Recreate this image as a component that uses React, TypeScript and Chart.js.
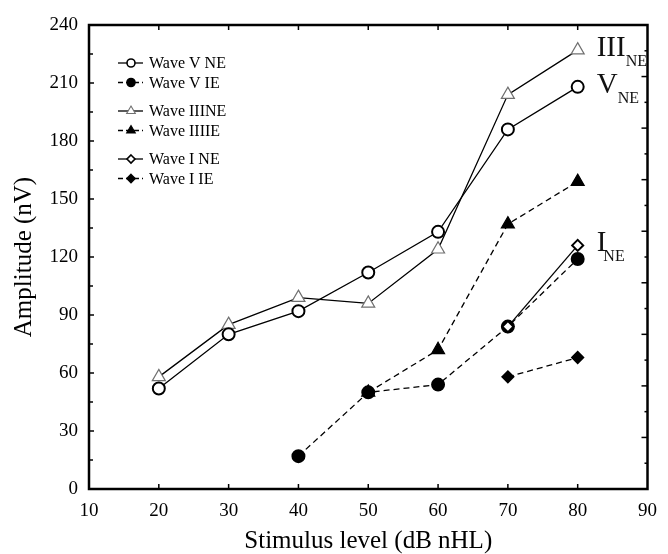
import React, { useEffect, useRef } from "react";
import { Chart, registerables } from "chart.js";

Chart.register(...registerables);

const FONT = "'Liberation Serif', 'Times New Roman', serif";

// Stimulus levels (dB nHL)
const levels = [20, 30, 40, 50, 60, 70, 80];

// Amplitudes (nV); null = no response
const waveVNE = [52, 80, 92, 112, 133, 186, 208];
const waveVIE = [null, null, 17, 50, 54, 84, 119];
const waveIIINE = [58, 85, 99, 96, 124, 204, 227];
const waveIIIIE = [null, null, null, 50, 72, 137, 159];
const waveINE = [null, null, null, null, null, 84, 126];
const waveIIE = [null, null, null, null, null, 58, 68];

const seriesLabels = ["Wave V NE", "Wave V IE", "Wave IIINE", "Wave IIIIE", "Wave I NE", "Wave I IE"];
const legendGroups = [[0, 1], [2, 3], [4, 5]];

const xMin = 10, xMax = 90, xStep = 10;
const yMin = 0, yMax = 240, yStep = 30;
const topBottomTicks = [20, 30, 40, 50, 60, 70, 80];
const rightAxisDivisions = 18;

const annotationMain = ["III", "V", "I"];
const annotationSub = ["NE", "NE", "NE"];
const annotationSeries = [2, 0, 4];

type Style = { shape: string; filled: boolean; dashed: boolean; stroke: string };
const styles: Style[] = [
  { shape: "circle", filled: false, dashed: false, stroke: "#000" },
  { shape: "circle", filled: true, dashed: true, stroke: "#000" },
  { shape: "triangle", filled: false, dashed: false, stroke: "#707070" },
  { shape: "triangle", filled: true, dashed: true, stroke: "#000" },
  { shape: "rectRot", filled: false, dashed: false, stroke: "#000" },
  { shape: "rectRot", filled: true, dashed: true, stroke: "#000" },
];
const seriesValues = [waveVNE, waveVIE, waveIIINE, waveIIIIE, waveINE, waveIIE];

function drawMarker(ctx: CanvasRenderingContext2D, st: Style, x: number, y: number, r: number, lw: number) {
  ctx.save();
  ctx.beginPath();
  if (st.shape === "circle") {
    ctx.arc(x, y, r, 0, Math.PI * 2);
  } else if (st.shape === "triangle") {
    const s = Math.sin((2 * Math.PI) / 3) * r;
    ctx.moveTo(x, y - r);
    ctx.lineTo(x + s, y + r * 0.5);
    ctx.lineTo(x - s, y + r * 0.5);
    ctx.closePath();
  } else {
    ctx.moveTo(x, y - r);
    ctx.lineTo(x + r, y);
    ctx.lineTo(x, y + r);
    ctx.lineTo(x - r, y);
    ctx.closePath();
  }
  ctx.fillStyle = st.filled ? "#000" : "#fff";
  ctx.fill();
  ctx.lineWidth = lw;
  ctx.strokeStyle = st.stroke;
  ctx.setLineDash([]);
  ctx.stroke();
  ctx.restore();
}

const framePlugin = {
  id: "frameTicks",
  afterDatasetsDraw(chart: any) {
    const { ctx, chartArea: a, scales } = chart;
    const xs = scales.x, ys = scales.y;
    ctx.save();
    ctx.strokeStyle = "#000";
    ctx.lineWidth = 1.5;
    ctx.setLineDash([]);
    // left ticks (major every 30, minor every 15)
    for (let v = yMin; v <= yMax; v += yStep / 2) {
      const y = ys.getPixelForValue(v);
      const len = v % yStep === 0 ? 5 : 4;
      ctx.beginPath();
      ctx.moveTo(a.left, y);
      ctx.lineTo(a.left + len, y);
      ctx.stroke();
    }
    // right ticks
    for (let i = 0; i <= rightAxisDivisions; i++) {
      const y = a.bottom - ((a.bottom - a.top) * i) / rightAxisDivisions;
      const len = i % 2 === 0 ? 6 : 3;
      ctx.beginPath();
      ctx.moveTo(a.right, y);
      ctx.lineTo(a.right - len, y);
      ctx.stroke();
    }
    // top & bottom ticks
    for (const v of topBottomTicks) {
      const x = xs.getPixelForValue(v);
      ctx.beginPath();
      ctx.moveTo(x, a.top);
      ctx.lineTo(x, a.top + 5);
      ctx.moveTo(x, a.bottom);
      ctx.lineTo(x, a.bottom - 5);
      ctx.stroke();
    }
    // frame
    ctx.lineWidth = 2.5;
    ctx.strokeRect(a.left, a.top, a.right - a.left, a.bottom - a.top);

    // legend
    const lx0 = a.left + 29, lx1 = a.left + 54, mx = a.left + 42, tx = a.left + 60;
    ctx.font = `16px ${FONT}`;
    ctx.textBaseline = "middle";
    ctx.textAlign = "left";
    legendGroups.forEach((grp, g) => {
      grp.forEach((si, r) => {
        const y = a.top + 38 + g * 48 + r * 19.5;
        const st = styles[si];
        ctx.save();
        ctx.lineWidth = 1.3;
        ctx.strokeStyle = "#000";
        ctx.setLineDash(st.dashed ? [5, 3] : []);
        ctx.beginPath();
        ctx.moveTo(lx0, y);
        ctx.lineTo(lx1, y);
        ctx.stroke();
        ctx.restore();
        drawMarker(ctx, st, mx, y, st.shape === "triangle" ? 5 : 4, st.shape === "triangle" ? 1.1 : 1.6);
        ctx.fillStyle = "#000";
        ctx.fillText(seriesLabels[si], tx, y + 1);
      });
    });

    // end-of-line annotations
    annotationMain.forEach((m, i) => {
      const vals = seriesValues[annotationSeries[i]];
      const last = vals[vals.length - 1] as number;
      const x = xs.getPixelForValue(levels[levels.length - 1]) + 19;
      const y = ys.getPixelForValue(last) + 6;
      ctx.fillStyle = "#111";
      ctx.textBaseline = "alphabetic";
      ctx.font = `29px ${FONT}`;
      ctx.fillText(m, x, y);
      const w = ctx.measureText(m).width;
      ctx.font = `16px ${FONT}`;
      ctx.fillText(annotationSub[i], x + w - (m === "I" ? 3 : 0), y + 10);
    });
    ctx.restore();
  },
};

export default function App() {
  const ref = useRef<HTMLCanvasElement | null>(null);
  useEffect(() => {
    if (!ref.current) return;
    const mk = (si: number) => {
      const st = styles[si];
      const data = levels
        .map((x, i) => ({ x, y: seriesValues[si][i] }))
        .filter((p) => p.y !== null);
      const isTri = st.shape === "triangle";
      return {
        label: seriesLabels[si],
        data,
        borderColor: "#000",
        borderWidth: 1.3,
        borderDash: st.dashed ? [6, 4] : [],
        pointStyle: st.shape,
        pointRadius: isTri ? 7.5 : st.shape === "rectRot" ? 5.5 : 6,
        pointBackgroundColor: st.filled ? "#000" : "#fff",
        pointBorderColor: st.stroke,
        pointBorderWidth: isTri ? 1.2 : 2,
        fill: false,
        tension: 0,
      };
    };
    // first dataset drawn on top
    const order = [4, 0, 2, 5, 1, 3];
    const chart = new Chart(ref.current, {
      type: "line",
      data: { datasets: order.map(mk) as any },
      options: {
        animation: false,
        responsive: false,
        events: [],
        layout: { padding: { top: 25, right: 10, left: 0, bottom: 0 } },
        plugins: { legend: { display: false }, tooltip: { enabled: false } },
        scales: {
          x: {
            type: "linear",
            min: xMin,
            max: xMax,
            grid: { display: false, drawTicks: false },
            border: { display: false },
            ticks: { stepSize: xStep, color: "#000", font: { family: FONT, size: 19 }, padding: 11, maxRotation: 0 },
            title: {
              display: true,
              text: "Stimulus level (dB nHL)",
              color: "#000",
              font: { family: FONT, size: 25, lineHeight: 1 },
              padding: { top: 0, bottom: 0 },
            },
            afterFit: (s: any) => {
              s.height = 65;
            },
          },
          y: {
            min: yMin,
            max: yMax,
            grid: { display: false, drawTicks: false },
            border: { display: false },
            ticks: { stepSize: yStep, color: "#000", font: { family: FONT, size: 19 }, padding: 11 },
            title: {
              display: true,
              text: "Amplitude (nV)",
              color: "#000",
              font: { family: FONT, size: 25, lineHeight: 1 },
              padding: { top: 12, bottom: 0 },
            },
            afterFit: (s: any) => {
              s.width = 89;
            },
          },
        },
      } as any,
      plugins: [framePlugin],
    });
    return () => chart.destroy();
  }, []);
  return (
    <div style={{ position: "absolute", left: 0, top: 0, width: 668, height: 554, background: "#fff" }}>
      <canvas ref={ref} width={668} height={554} style={{ display: "block" }} />
    </div>
  );
}
